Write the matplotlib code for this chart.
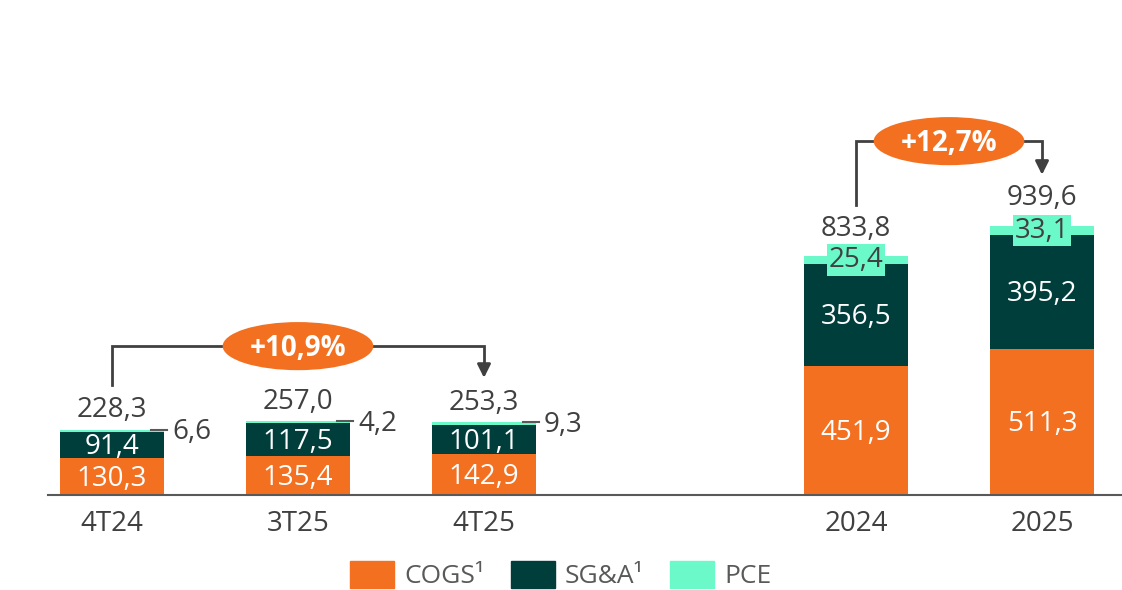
import matplotlib
matplotlib.use("Agg")
import matplotlib.pyplot as plt
from matplotlib.patches import Ellipse, Patch

plt.rcParams["font.family"] = ["Open Sans", "DejaVu Sans"]

# Cores
ORANGE = "#F37021"
DARK = "#003E3C"
MINT = "#6CF9CA"
GREY = "#404040"

# Dados
categorias = ["4T24", "3T25", "4T25", "2024", "2025"]
posicoes = [0, 1, 2, 4, 5]
cogs = [130.3, 135.4, 142.9, 451.9, 511.3]
sga = [91.4, 117.5, 101.1, 356.5, 395.2]
pce = [6.6, 4.2, 9.3, 25.4, 33.1]
totais = [228.3, 257.0, 253.3, 833.8, 939.6]
variacoes = ["+10,9%", "+12,7%"]


def fmt(v):
    return ("%.1f" % v).replace(".", ",")


fig = plt.figure(figsize=(11.22, 5.9), dpi=100)
ax = fig.add_axes([48 / 1122, 95 / 590, 1 - 48 / 1122, 495 / 590])
ax.set_xlim(-0.344, 5.43)
ax.set_ylim(0, 495 / 0.2863)

w = 0.555
dy = -8  # pequeno ajuste vertical do texto (Open Sans fica alto)
ax.bar(posicoes, cogs, w, color=ORANGE, label="COGS¹")
ax.bar(posicoes, sga, w, bottom=cogs, color=DARK, label="SG&A¹")
bot2 = [c + s for c, s in zip(cogs, sga)]
ax.bar(posicoes, pce, w, bottom=bot2, color=MINT, label="PCE")

for i, x in enumerate(posicoes):
    ax.text(x, cogs[i] / 2 + dy, fmt(cogs[i]), ha="center", va="center",
            color="white", fontsize=20)
    ax.text(x, cogs[i] + sga[i] / 2 + dy, fmt(sga[i]), ha="center",
            va="center", color="white", fontsize=20)
    top = bot2[i] + pce[i]
    if i < 3:
        # rotulo do PCE ao lado, com linha de chamada
        ax.plot([x + w / 2 - 0.07, x + w / 2 + 0.02], [top, top],
                color="#595959", lw=1.5)
        ax.text(x + w / 2 + 0.045, top + dy, fmt(pce[i]), ha="left",
                va="center", color=GREY, fontsize=20)
        ax.text(x, top + 18, fmt(totais[i]), ha="center", va="bottom",
                color=GREY, fontsize=20)
    else:
        ax.text(x, bot2[i] + pce[i] / 2, fmt(pce[i]), ha="center",
                va="center", color=GREY, fontsize=20,
                bbox=dict(boxstyle="square,pad=0.06", fc=MINT, ec="none"))
        ax.text(x, top + 48, fmt(totais[i]), ha="center", va="bottom",
                color=GREY, fontsize=20)

# Colchetes de variacao
colchetes = [(0, 2, 156, 520), (3, 4, 179, 1236)]
for (a, b, off, nivel), txt in zip(colchetes, variacoes):
    xa, xb = posicoes[a], posicoes[b]
    ya, yb = totais[a] + off, totais[b] + off
    ax.plot([xa, xa, xb, xb], [ya, nivel, nivel, yb + 40],
            color=GREY, lw=2, solid_joinstyle="miter")
    ax.annotate("", xy=(xb, yb), xytext=(xb, yb + 45),
                arrowprops=dict(arrowstyle="-|>,head_width=0.4,head_length=0.8",
                                color=GREY, lw=2, shrinkA=0, shrinkB=0))
    xm = (xa + xb) / 2
    ax.add_patch(Ellipse((xm, nivel), 0.81, 168, fc=ORANGE, ec="none",
                         zorder=3))
    ax.text(xm, nivel + dy, txt, ha="center", va="center", color="white",
            fontsize=20, fontweight="bold", zorder=4)

ax.set_xticks(posicoes)
ax.set_xticklabels(categorias, fontsize=20, color=GREY)
ax.tick_params(axis="x", length=0, pad=11)
ax.set_yticks([])
for s in ("top", "right", "left"):
    ax.spines[s].set_visible(False)
ax.spines["bottom"].set_color("#595959")
ax.spines["bottom"].set_linewidth(1.5)

handles = [Patch(color=ORANGE, label="COGS¹"),
           Patch(color=DARK, label="SG&A¹"),
           Patch(color=MINT, label="PCE")]
fig.legend(handles=handles, loc="center", bbox_to_anchor=(0.5, 15 / 590),
           ncol=3, frameon=False, fontsize=19, handlelength=1.65,
           handleheight=1.2, handletextpad=0.4, columnspacing=1.0,
           labelcolor="#595959")

fig.savefig("out.png", dpi=100)
